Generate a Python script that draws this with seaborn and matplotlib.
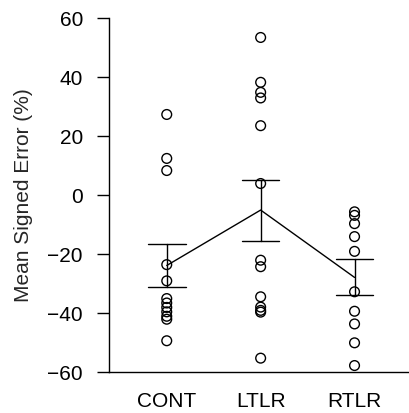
import pandas as pd
import numpy as np
import matplotlib
matplotlib.use("Agg")
import matplotlib.pyplot as plt
import seaborn as sns

# --- data ---
groups = ["CONT", "LTLR", "RTLR"]
cont = [27.4, 12.5, 8.4, -23.5, -29.0, -35.0, -36.5, -38.0, -39.5, -41.0, -42.0, -49.3]
ltlr = [53.5, 38.3, 34.9, 33.0, 23.6, 4.0, -22.0, -24.2, -34.4, -37.9, -39.0, -39.6, -55.2]
rtlr = [-5.6, -6.8, -9.6, -14.0, -19.0, -32.7, -39.3, -43.6, -50.0, -57.7]
yticks = [-60, -40, -20, 0, 20, 40, 60]

df = pd.DataFrame({
    "group": ["CONT"] * len(cont) + ["LTLR"] * len(ltlr) + ["RTLR"] * len(rtlr),
    "value": cont + ltlr + rtlr,
})

sns.set_style("ticks")
plt.rcParams["font.family"] = ["Liberation Sans", "DejaVu Sans"]

fig = plt.figure(figsize=(4.09, 4.13), dpi=100)
ax = fig.add_axes([0.2672, 0.0985, 0.7328, 0.8572])

# individual subjects as open circles
sns.stripplot(data=df, x="group", y="value", order=groups, jitter=False,
              color="black", facecolor="none", edgecolor="black",
              linewidth=1, size=7, ax=ax)
for coll in ax.collections:
    coll.set_facecolor("none")
    coll.set_edgecolor("black")

# group mean +/- SEM
sns.pointplot(data=df, x="group", y="value", order=groups, errorbar="se",
              capsize=0.4, color="black", markers="none", linewidth=1,
              err_kws={"linewidth": 1}, ax=ax)

ax.set_xlim(-0.612, 2.58)
ax.set_ylim(-60, 60)
ax.set_yticks(yticks)
ax.set_xlabel("")
ax.set_ylabel("Mean Signed Error (%)", fontsize=15, labelpad=10)

sns.despine(ax=ax)
for s in ["left", "bottom"]:
    ax.spines[s].set_linewidth(1)
    ax.spines[s].set_color("black")
ax.tick_params(axis="y", length=9, width=1, pad=10, labelsize=15, colors="black")
ax.tick_params(axis="x", length=0, pad=14, labelsize=15, colors="black")

fig.savefig("out.png", dpi=100)
